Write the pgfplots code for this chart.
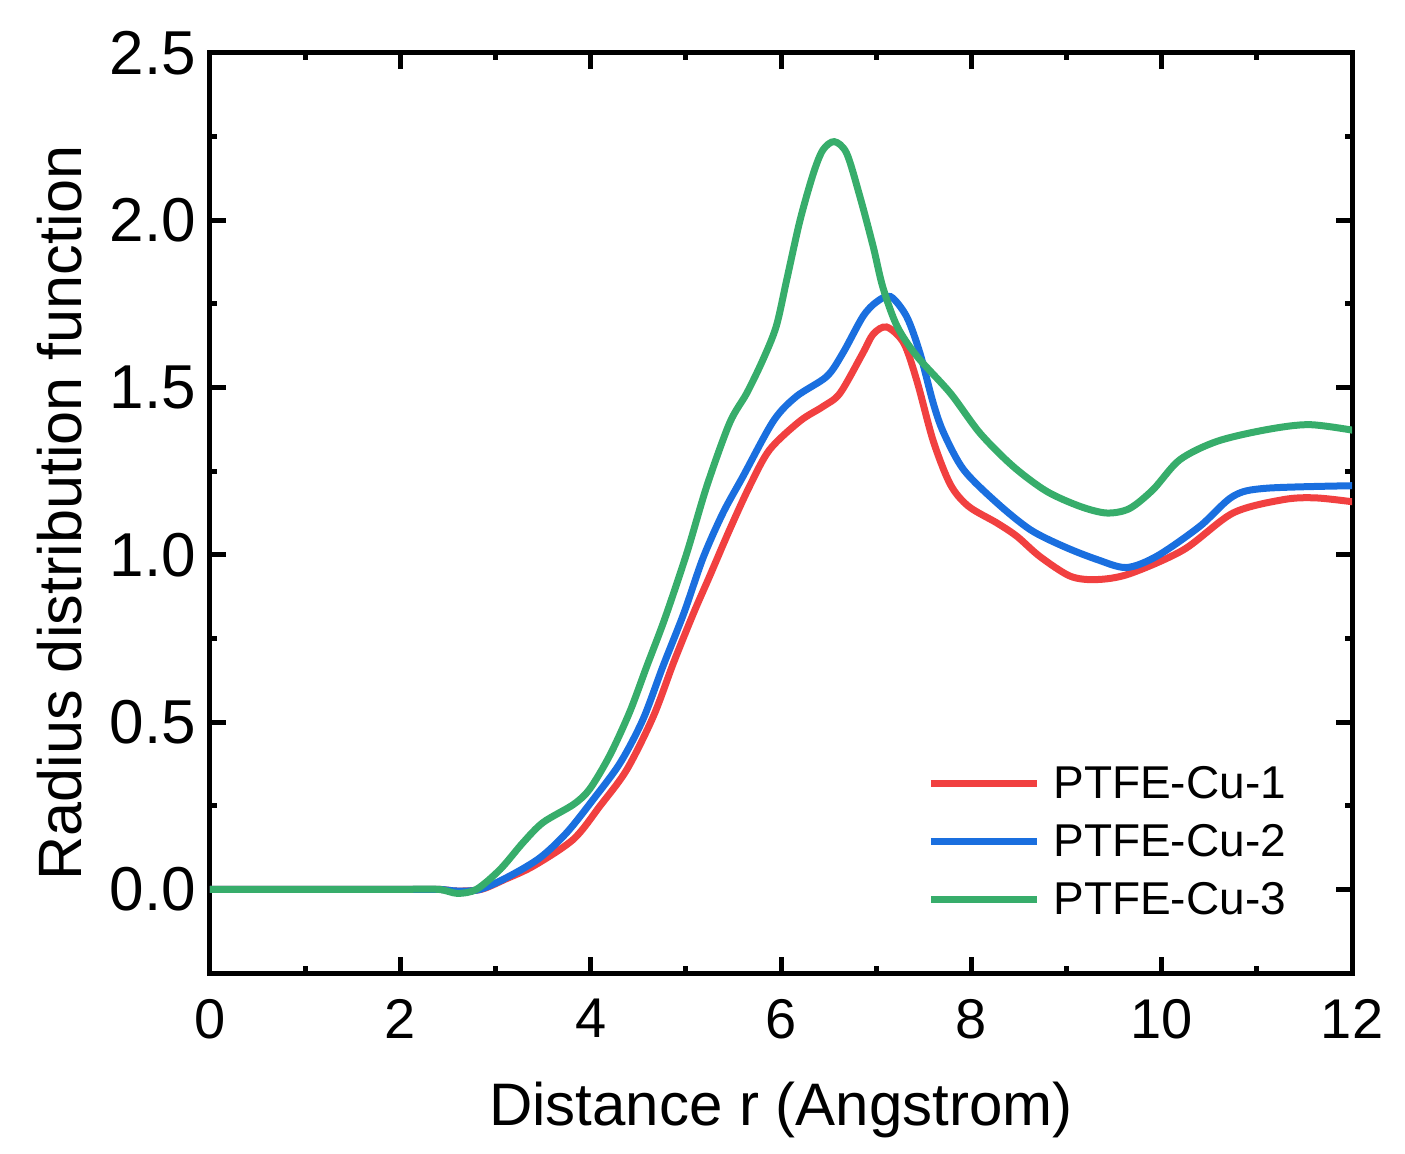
\documentclass[border=0pt]{standalone}
\usepackage{fontspec}
\setmainfont{Liberation Sans}
\usepackage{pgfplots}
\pgfplotsset{compat=1.18}
\definecolor{cred}{RGB}{241,64,64}
\definecolor{cblue}{RGB}{26,111,223}
\definecolor{cgreen}{RGB}{55,173,107}
\begin{document}
\begin{tikzpicture}
\begin{axis}[
  scale only axis, width=571bp, height=460bp,
  xmin=0, xmax=12, ymin=-0.25, ymax=2.5,
  xtick={0,2,...,12}, ytick={0,0.5,...,2.5},
  minor x tick num=1, minor y tick num=1,
  tick align=inside,
  axis line style={line width=2.5bp},
  major tick length=8bp, minor tick length=3.5bp,
  tick style={line width=2.5bp, black},
  /pgf/number format/assume math mode=true,
  xticklabel style={font=\fontsize{28bp}{33bp}\selectfont, yshift=-9.5bp},
  yticklabel style={font=\fontsize{31bp}{36bp}\selectfont, xshift=-3.5bp, /pgf/number format/.cd, fixed, fixed zerofill, precision=1},
  xlabel={Distance r (Angstrom)},
  ylabel={Radius distribution function},
  xlabel style={font=\fontsize{30bp}{36bp}\selectfont, at={(axis description cs:0.5,0)}, anchor=base, yshift=-76bp},
  ylabel style={font=\fontsize{30.6bp}{36bp}\selectfont, at={(axis description cs:-0.1121,0.5)}, anchor=base},
  legend cell align=left,
  legend image code/.code={\draw[#1] (0bp,-1.5bp) -- (53bp,-1.5bp);},
  legend style={draw=none, fill=none, inner sep=0pt,
    at={(axis description cs:0.6278,0.2293)}, anchor=north west,
    font=\fontsize{23bp}{27bp}\selectfont, row sep=11bp,
    nodes={inner sep=0pt, text height=18bp, text depth=0bp},
    /tikz/every odd column/.append style={column sep=6.5bp}},
]
\addplot[cred, line width=3.5bp, smooth] coordinates {
(0,0) (0.5,0) (1,0) (1.5,0) (2,0) (2.4,0) (2.6,-0.005) (2.85,0.0) (3.1,0.03)
(3.4,0.07) (3.82,0.15) (4.1,0.25) (4.38,0.358) (4.66,0.518) (4.87,0.677)
(5.08,0.825) (5.25,0.936) (5.46,1.075) (5.67,1.205) (5.88,1.314) (6.2,1.40)
(6.44,1.443) (6.62,1.483) (6.86,1.603) (6.97,1.66) (7.11,1.681) (7.29,1.633) (7.43,1.518)
(7.6,1.34) (7.78,1.21) (7.97,1.145) (8.27,1.095) (8.48,1.055) (8.72,0.995)
(9.04,0.936) (9.32,0.926) (9.66,0.943) (10.23,1.015) (10.75,1.125) (11.28,1.165)
(11.63,1.170) (12.1,1.155)
};
\addlegendentry{PTFE-Cu-1}
\addplot[cblue, line width=3.5bp, smooth] coordinates {
(0,0) (0.5,0) (1,0) (1.5,0) (2,0) (2.4,0) (2.6,-0.005) (2.84,0) (3.15,0.04)
(3.47,0.095) (3.75,0.17) (4.03,0.27) (4.31,0.378) (4.55,0.508) (4.76,0.667)
(4.98,0.826) (5.18,0.99) (5.39,1.125) (5.6,1.234) (5.92,1.40) (6.16,1.473)
(6.48,1.533) (6.65,1.603) (6.86,1.712) (7.0,1.755) (7.15,1.772) (7.32,1.712) (7.46,1.603)
(7.6,1.453) (7.71,1.364) (7.92,1.254) (8.27,1.155) (8.62,1.075) (8.97,1.025)
(9.32,0.986) (9.63,0.962) (9.95,0.996) (10.4,1.085) (10.75,1.175) (11.1,1.199)
(12.1,1.207)
};
\addlegendentry{PTFE-Cu-2}
\addplot[cgreen, line width=3.5bp, smooth] coordinates {
(0,0) (0.5,0) (1,0) (1.5,0) (2,0) (2.4,0) (2.6,-0.012) (2.8,0) (3.05,0.06)
(3.29,0.14) (3.5,0.2) (3.82,0.254) (3.99,0.3) (4.2,0.4) (4.41,0.53) (4.59,0.667)
(4.78,0.81) (5.01,1.005) (5.22,1.205) (5.46,1.394) (5.64,1.483) (5.81,1.583)
(5.95,1.683) (6.06,1.822) (6.2,2.0) (6.34,2.14) (6.44,2.21) (6.56,2.235)
(6.69,2.2) (6.83,2.07) (6.97,1.92) (7.07,1.8) (7.22,1.683) (7.43,1.593)
(7.78,1.483) (8.09,1.364) (8.44,1.264) (8.79,1.19) (9.14,1.145) (9.42,1.125)
(9.66,1.138) (9.91,1.195) (10.19,1.284) (10.58,1.339) (11.1,1.374) (11.56,1.389)
(12.1,1.368)
};
\addlegendentry{PTFE-Cu-3}
\end{axis}
\pgfresetboundingbox
\path ([shift={(-105bp,-90.5bp)}]current axis.south west) rectangle ([shift={(26.5bp,26.5bp)}]current axis.north east);
\end{tikzpicture}
\end{document}
